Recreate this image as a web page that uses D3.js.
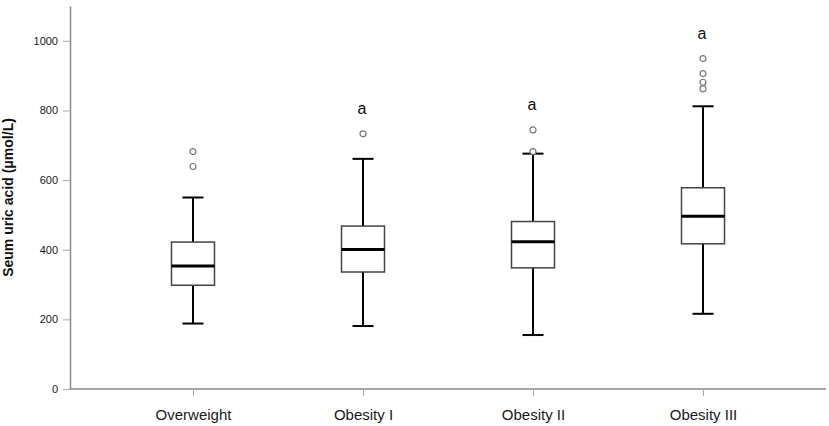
<!DOCTYPE html>
<html>
<head>
<meta charset="utf-8">
<script src="https://cdn.jsdelivr.net/npm/d3@7"></script>
<style>
  body { margin: 0; background: #fff; }
  svg { display: block; }
</style>
</head>
<body>
<div id="chart"></div>
<script>
// --------------- Data ---------------
const groups = ["Overweight", "Obesity I", "Obesity II", "Obesity III"];
const whiskerLow = [188, 181, 155, 216];
const q1 = [298, 336, 348, 417];
const median = [353, 401, 423, 496];
const q3 = [422, 468, 481, 578];
const whiskerHigh = [550, 661, 676, 812];
const outliers = [[639, 682], [733], [682, 744], [862, 881, 906, 949]];
const letters = ["", "a", "a", "a"];
const yTicks = [0, 200, 400, 600, 800, 1000];

// --------------- Constants ---------------
const WIDTH = 829;
const HEIGHT = 426;
const AXIS_X = 70;
const AXIS_Y = 389;
const BOX_W = 43;
const CAP_W = 21;
const FONT = "'Liberation Sans', Arial, sans-serif";

const svg = d3
  .select("#chart")
  .append("svg")
  .attr("width", WIDTH)
  .attr("height", HEIGHT);

const x = d3.scalePoint().domain(groups).range([AXIS_X, 826]).padding(0.7235);
const y = d3.scaleLinear().domain([0, 1100]).range([AXIS_Y, 6]);

// --------------- Axes ---------------
const yAxis = svg
  .append("g")
  .attr("transform", `translate(${AXIS_X},0)`)
  .call(
    d3
      .axisLeft(y)
      .tickValues(yTicks)
      .tickFormat(d3.format("d"))
      .tickSize(7)
      .tickPadding(5)
      .tickSizeOuter(0)
  );
yAxis.select(".domain").attr("stroke", "#8a8a8a").attr("stroke-width", 1.5);
yAxis.selectAll(".tick line").attr("stroke", "#aaa");
yAxis
  .selectAll(".tick text")
  .attr("fill", "#1a1a1a")
  .style("font-family", FONT)
  .style("font-size", "11px");

const xAxis = svg
  .append("g")
  .attr("transform", `translate(0,${AXIS_Y})`)
  .call(d3.axisBottom(x).tickSize(7).tickPadding(13).tickSizeOuter(0));
xAxis
  .select(".domain")
  .attr("d", `M${AXIS_X},0H826`)
  .attr("stroke", "#8a8a8a")
  .attr("stroke-width", 1.5);
xAxis.selectAll(".tick line").attr("stroke", "#aaa");
xAxis
  .selectAll(".tick text")
  .attr("fill", "#1a1a1a")
  .style("font-family", FONT)
  .style("font-size", "15px");

// Y axis title
svg
  .append("text")
  .attr("transform", `translate(13,${(y(1100) + AXIS_Y) / 2}) rotate(-90)`)
  .attr("text-anchor", "middle")
  .style("font-family", FONT)
  .style("font-size", "14px")
  .style("font-weight", "bold")
  .attr("fill", "#111")
  .text("Seum uric acid (\u03bcmol/L)");

// --------------- Boxes ---------------
const boxes = svg
  .append("g")
  .selectAll("g")
  .data(groups)
  .enter()
  .append("g")
  .attr("transform", (d) => `translate(${x(d)},0)`);

// whiskers
boxes
  .append("line")
  .attr("x1", 0)
  .attr("x2", 0)
  .attr("y1", (d, i) => y(whiskerHigh[i]))
  .attr("y2", (d, i) => y(q3[i]))
  .attr("stroke", "#000")
  .attr("stroke-width", 2);
boxes
  .append("line")
  .attr("x1", 0)
  .attr("x2", 0)
  .attr("y1", (d, i) => y(q1[i]))
  .attr("y2", (d, i) => y(whiskerLow[i]))
  .attr("stroke", "#000")
  .attr("stroke-width", 2);

// caps
[whiskerHigh, whiskerLow].forEach((vals) => {
  boxes
    .append("line")
    .attr("x1", -CAP_W / 2)
    .attr("x2", CAP_W / 2)
    .attr("y1", (d, i) => y(vals[i]))
    .attr("y2", (d, i) => y(vals[i]))
    .attr("stroke", "#000")
    .attr("stroke-width", 2);
});

// box
boxes
  .append("rect")
  .attr("x", -BOX_W / 2)
  .attr("width", BOX_W)
  .attr("y", (d, i) => y(q3[i]))
  .attr("height", (d, i) => y(q1[i]) - y(q3[i]))
  .attr("fill", "#fff")
  .attr("stroke", "#444")
  .attr("stroke-width", 1.5);

// median
boxes
  .append("line")
  .attr("x1", -BOX_W / 2)
  .attr("x2", BOX_W / 2)
  .attr("y1", (d, i) => y(median[i]))
  .attr("y2", (d, i) => y(median[i]))
  .attr("stroke", "#000")
  .attr("stroke-width", 3);

// outliers
boxes
  .selectAll("circle")
  .data((d, i) => outliers[i])
  .enter()
  .append("circle")
  .attr("cx", 0)
  .attr("cy", (v) => y(v))
  .attr("r", 3)
  .attr("fill", "#fff")
  .attr("stroke", "#777")
  .attr("stroke-width", 1.2);

// significance letters
boxes
  .append("text")
  .attr("x", -1)
  .attr("y", (d, i) => y(d3.max(outliers[i])) - 20)
  .attr("text-anchor", "middle")
  .style("font-family", FONT)
  .style("font-size", "16px")
  .attr("fill", "#111")
  .text((d, i) => letters[i]);
</script>
</body>
</html>
